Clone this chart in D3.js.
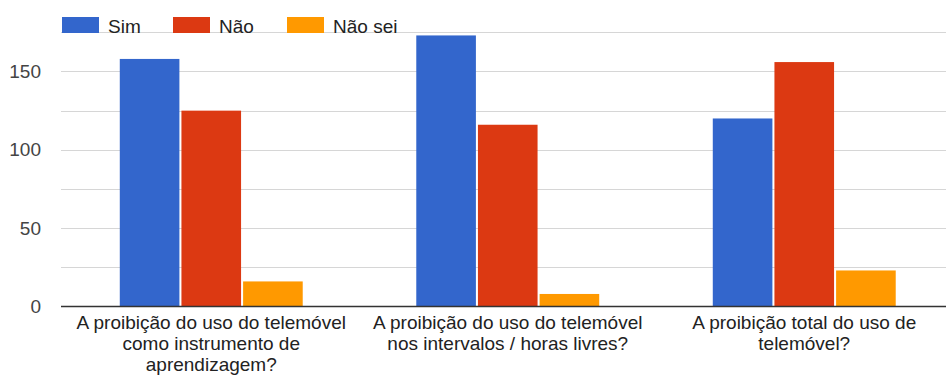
<!DOCTYPE html>
<html><head><meta charset="utf-8">
<script src="https://cdn.jsdelivr.net/npm/d3@7"></script>
<style>
html,body{margin:0;padding:0;background:#fff;}
svg{display:block;font-family:"Liberation Sans",Arial,sans-serif;}
</style></head>
<body>
<svg id="chart" width="946" height="381"></svg>
<script>
const categories = [
  ["A proibição do uso do telemóvel", "como instrumento de", "aprendizagem?"],
  ["A proibição do uso do telemóvel", "nos intervalos / horas livres?"],
  ["A proibição total do uso de", "telemóvel?"]
];
const seriesNames = ["Sim", "Não", "Não sei"];
const seriesColors = ["#3366cc", "#dc3912", "#ff9900"];
const sim = [158, 173, 120];
const nao = [125, 116, 156];
const naoSei = [16, 8, 23];
const yTicks = [0, 50, 100, 150];
const gridTicks = [0, 25, 50, 75, 100, 125, 150, 175];

const values = [sim, nao, naoSei];
const svg = d3.select("#chart");

const x0 = d3.scaleBand().domain(d3.range(categories.length)).range([63, 952.5]).paddingInner(0.383).paddingOuter(0.1915);
const x1 = d3.scaleBand().domain(d3.range(seriesNames.length)).range([0, x0.bandwidth()]).paddingInner(0.033);
const y = d3.scaleLinear().domain([0, 175]).range([306.5, 32.3]);

// gridlines
svg.append("g").selectAll("line").data(gridTicks.filter(d => d > 0)).join("line")
  .attr("x1", 61).attr("x2", 946)
  .attr("y1", d => Math.round(y(d)) + 0.5).attr("y2", d => Math.round(y(d)) + 0.5)
  .attr("stroke", "#d6d6d6").attr("stroke-width", 1.2);

// y tick labels
const yAxis = d3.axisLeft(y).tickValues(yTicks).tickSize(0).tickPadding(0);
const ya = svg.append("g").attr("transform", "translate(41,0)").call(yAxis);
ya.select(".domain").remove();
ya.selectAll("text").attr("font-size", 19).attr("fill", "#444").attr("font-family", "Liberation Sans, Arial, sans-serif");

// bars
const g = svg.append("g");
categories.forEach((c, ci) => {
  values.forEach((arr, si) => {
    g.append("rect")
      .attr("x", x0(ci) + x1(si))
      .attr("y", y(arr[ci]))
      .attr("width", x1.bandwidth())
      .attr("height", y(0) - y(arr[ci]))
      .attr("fill", seriesColors[si]);
  });
});

// baseline
svg.append("line").attr("x1", 61).attr("x2", 946).attr("y1", 306.5).attr("y2", 306.5)
  .attr("stroke", "#333").attr("stroke-width", 1.5);

// category labels
categories.forEach((lines, ci) => {
  const cx = x0(ci) + x0.bandwidth() / 2;
  const t = svg.append("text").attr("text-anchor", "middle").attr("font-size", 19).attr("fill", "#222");
  lines.forEach((l, li) => {
    t.append("tspan").attr("x", cx).attr("y", 329 + li * 21).text(l);
  });
});

// legend
const legX = [62, 173, 287];
const lg = svg.append("g");
seriesNames.forEach((n, i) => {
  lg.append("rect").attr("x", legX[i]).attr("y", 17).attr("width", 37).attr("height", 16).attr("fill", seriesColors[i]);
  lg.append("text").attr("x", legX[i] + 46).attr("y", 32.5).attr("font-size", 19).attr("fill", "#222").text(n);
});
</script>
</body></html>
